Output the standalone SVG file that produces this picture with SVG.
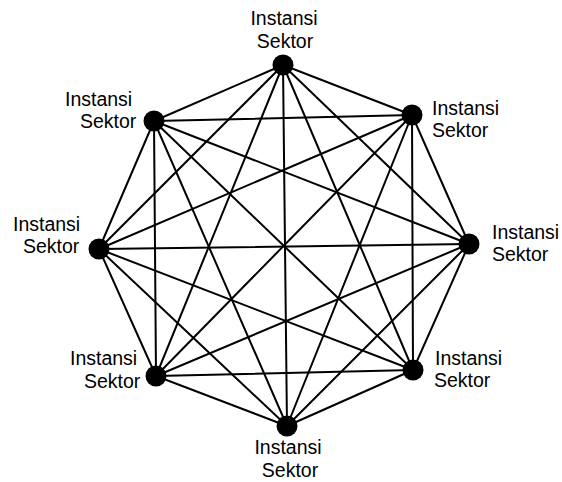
<svg xmlns="http://www.w3.org/2000/svg" width="562" height="482" viewBox="0 0 562 482">
<style>
.e{stroke:#000;stroke-width:2;fill:none;stroke-linecap:round}
.n{fill:#000}
.t{font-family:"Liberation Sans",Arial,sans-serif;font-size:19.5px;fill:#000}
</style>
<rect width="562" height="482" fill="#fff"/>
<g id="connectors">
<line class="e" x1="283" y1="65" x2="412" y2="115"/>
<line class="e" x1="283" y1="65" x2="469" y2="244"/>
<line class="e" x1="283" y1="65" x2="413" y2="370"/>
<line class="e" x1="283" y1="65" x2="287" y2="426"/>
<line class="e" x1="283" y1="65" x2="156" y2="376"/>
<line class="e" x1="283" y1="65" x2="99" y2="249"/>
<line class="e" x1="283" y1="65" x2="154" y2="121"/>
<line class="e" x1="412" y1="115" x2="469" y2="244"/>
<line class="e" x1="412" y1="115" x2="413" y2="370"/>
<line class="e" x1="412" y1="115" x2="287" y2="426"/>
<line class="e" x1="412" y1="115" x2="156" y2="376"/>
<line class="e" x1="412" y1="115" x2="99" y2="249"/>
<line class="e" x1="412" y1="115" x2="154" y2="121"/>
<line class="e" x1="469" y1="244" x2="413" y2="370"/>
<line class="e" x1="469" y1="244" x2="287" y2="426"/>
<line class="e" x1="469" y1="244" x2="156" y2="376"/>
<line class="e" x1="469" y1="244" x2="99" y2="249"/>
<line class="e" x1="469" y1="244" x2="154" y2="121"/>
<line class="e" x1="413" y1="370" x2="287" y2="426"/>
<line class="e" x1="413" y1="370" x2="156" y2="376"/>
<line class="e" x1="413" y1="370" x2="99" y2="249"/>
<line class="e" x1="413" y1="370" x2="154" y2="121"/>
<line class="e" x1="287" y1="426" x2="156" y2="376"/>
<line class="e" x1="287" y1="426" x2="99" y2="249"/>
<line class="e" x1="287" y1="426" x2="154" y2="121"/>
<line class="e" x1="156" y1="376" x2="99" y2="249"/>
<line class="e" x1="156" y1="376" x2="154" y2="121"/>
<line class="e" x1="99" y1="249" x2="154" y2="121"/>
</g>
<g id="node-top">
<circle class="n" cx="283" cy="65" r="10.5"/>
<text class="t" x="284" y="25" text-anchor="middle">Instansi</text>
<text class="t" x="285" y="48" text-anchor="middle">Sektor</text>
</g>
<g id="node-top-right">
<circle class="n" cx="412" cy="115" r="10.5"/>
<text class="t" x="432" y="115">Instansi</text>
<text class="t" x="432" y="137">Sektor</text>
</g>
<g id="node-right">
<circle class="n" cx="469" cy="244" r="10.5"/>
<text class="t" x="492" y="239">Instansi</text>
<text class="t" x="492" y="261">Sektor</text>
</g>
<g id="node-bottom-right">
<circle class="n" cx="413" cy="370" r="10.5"/>
<text class="t" x="435" y="365">Instansi</text>
<text class="t" x="434" y="387">Sektor</text>
</g>
<g id="node-bottom">
<circle class="n" cx="287" cy="426" r="10.5"/>
<text class="t" x="288" y="454" text-anchor="middle">Instansi</text>
<text class="t" x="290" y="477" text-anchor="middle">Sektor</text>
</g>
<g id="node-bottom-left">
<circle class="n" cx="156" cy="376" r="10.5"/>
<text class="t" x="70" y="365">Instansi</text>
<text class="t" x="84" y="388">Sektor</text>
</g>
<g id="node-left">
<circle class="n" cx="99" cy="249" r="10.5"/>
<text class="t" x="13" y="231">Instansi</text>
<text class="t" x="23" y="253">Sektor</text>
</g>
<g id="node-top-left">
<circle class="n" cx="154" cy="121" r="10.5"/>
<text class="t" x="65" y="106">Instansi</text>
<text class="t" x="80" y="128">Sektor</text>
</g>
</svg>
